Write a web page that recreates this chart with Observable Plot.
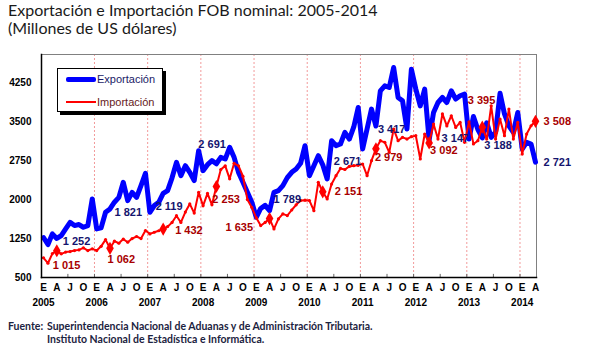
<!DOCTYPE html>
<html><head><meta charset="utf-8">
<script src="https://cdn.jsdelivr.net/npm/d3@7"></script>
<script src="https://cdn.jsdelivr.net/npm/@observablehq/plot@0.6"></script>
<style>
body{margin:0;background:#fff;}
#wrap{position:relative;width:600px;height:356px;overflow:hidden;background:#fff;}
#title{position:absolute;left:8px;top:1px;font-family:Lato,sans-serif;font-size:16px;line-height:18px;color:#1a1a1a;}
#chart{position:absolute;left:0;top:44px;}
#legend{position:absolute;left:57px;top:68px;width:106px;height:44px;box-sizing:border-box;border:1px solid #000;background:#fff;box-shadow:3px 3px 0 #000;font-family:"Liberation Sans",Arial,sans-serif;font-size:11px;}
.sw{position:absolute;left:8px;width:30px;}
.lt{position:absolute;left:39px;line-height:12px;}
#caption{position:absolute;left:8px;top:320px;font-family:Lato,sans-serif;font-weight:bold;font-size:10.5px;line-height:13px;color:#1c2340;}
#caption span.k{display:inline-block;width:39px;}
</style></head>
<body>
<div id="wrap">
  <div id="title">Exportación e Importación FOB nominal: 2005-2014<br>(Millones de US dólares)</div>
  <div id="chart"></div>
  <div id="legend">
    <div class="sw" style="top:8px;height:5px;background:#0000ff;border-radius:2px;"></div>
    <div class="lt" style="top:4px;color:#1a1a66;">Exportación</div>
    <div class="sw" style="top:32px;height:2px;background:#ff0000;"></div>
    <div class="lt" style="top:27px;color:#661a1a;">Importación</div>
  </div>
  <div id="caption"><span class="k">Fuente:</span>Superintendencia Nacional de Aduanas y de Administración Tributaria.<br><span class="k"></span>Instituto Nacional de Estadística e Informática.</div>
</div>
<script>
// Monthly values, Jan 2005 .. Apr 2014 (millions of US$)
const exportacion = [
  1270, 1135, 1340, 1252, 1308, 1436, 1563, 1500, 1520, 1468, 1500, 2013, // 2005
  1436, 1455, 1756, 1821, 1950, 2044, 2333, 1981, 2140, 2044, 2270, 2506, // 2006
  1756, 1885, 1948, 2119, 2173, 2420, 2717, 2462, 2654, 2525, 2365, 2942, // 2007
  2558, 2673, 2750, 2691, 2814, 2782, 3006, 2814, 2525, 2333, 2140, 1948, // 2008
  1660, 1830, 1890, 1789, 2140, 2173, 2269, 2423, 2525, 2590, 2700, 3039, // 2009
  2461, 2654, 2846, 2671, 2398, 3135, 3039, 3071, 3294, 3167, 3400, 3775, // 2010
  2975, 3359, 3744, 3417, 4096, 4192, 4159, 4544, 3967, 3903, 3359, 4512, // 2011
  4128, 3806, 4128, 3147, 3679, 3871, 3967, 3871, 4096, 3936, 4000, 4032, // 2012
  3167, 3600, 3350, 3188, 3480, 3200, 3300, 4050, 3650, 3420, 3295, 3679, // 2013
  2975, 3103, 3071, 2721                                                  // 2014
];
const importacion = [
   880,  775,  960, 1015,  955,  990, 1000, 1019, 1032, 1071, 1019, 1052, // 2005
  1019, 1100, 1230, 1062, 1200, 1160, 1240, 1180, 1250, 1290, 1250, 1404, // 2006
  1340, 1372, 1400, 1432, 1480, 1560, 1690, 1560, 1760, 1917, 1740, 2140, // 2007
  1880, 2120, 1900, 2253, 2580, 2650, 2400, 2700, 2650, 2450, 2000, 1850, // 2008
  1650, 1500, 1560, 1635, 1436, 1629, 1725, 1692, 1800, 1900, 1981, 1990, // 2009
  1981, 1788, 2333, 2151, 2013, 2300, 2461, 2600, 2580, 2640, 2654, 2660, // 2010
  2686, 2461, 2750, 2979, 3135, 3103, 2910, 3359, 3135, 3199, 3167, 3212, // 2011
  3231, 2782, 3263, 3092, 3455, 3167, 3650, 3420, 3615, 3391, 3487, 3103, // 2012
  3500, 3071, 3135, 3395, 3167, 3807, 3167, 3551, 3231, 3744, 3167, 3487, // 2013
  2878, 3263, 3423, 3508                                                  // 2014
];
const years = [2005, 2006, 2007, 2008, 2009, 2010, 2011, 2012, 2013, 2014];
const monthLetters = ["E", "A", "J", "O"];
const yTicks = [500, 1250, 2000, 2750, 3500, 4250];

// label placement (pixels), separate from the data
const expLabelOffset = [[6,3],[4.5,3.5],[-7.5,13],[-18,-19],[4,-11],[11,-3],[2,3],[12.5,-1.5],[2,8],[8,0]];
const impLabelOffset = [[-4,14.5],[-2.5,11],[12,1.5],[-4,13],[-44,9],[12,0],[-1,8.5],[1,7.5],[-14.5,-26.5],[8,0]];

const fmt = d3.formatLocale({decimal: ",", thousands: " ", grouping: [3], currency: ["", ""]}).format(",d");
const expRows = exportacion.map((v, i) => ({i, v}));
const impRows = importacion.map((v, i) => ({i, v}));
const aprExp = expRows.filter(d => d.i % 12 === 3);
const aprImp = impRows.filter(d => d.i % 12 === 3);
const n = exportacion.length;
const quarterIdx = d3.range(0, n, 3);
const yearIdx = d3.range(0, n, 12);
const gridIdx = d3.range(11.5, n - 1, 12);
const halfIdx = d3.range(5.5, n - 1, 6);

const lblFont = {fontFamily: '"Liberation Sans", Arial, sans-serif', fontWeight: "bold", fontSize: 11, textAnchor: "start"};

const marks = [
  Plot.ruleX(gridIdx, {x: d => d, stroke: "#f29a9a", strokeDasharray: "2,2", strokeWidth: 1}),
  Plot.frame({stroke: "#808080"}),
  Plot.ruleX(halfIdx, {x: d => d, y1: 500, y2: 560, stroke: "#666"}),
  Plot.axisY(yTicks, {tickSize: 0, tickPadding: 10, fontWeight: "bold", fontSize: 10, fill: "#000", tickFormat: d => String(d), label: null}),
  Plot.axisX(quarterIdx, {tickSize: 0, tickPadding: 6, fontWeight: "bold", fontSize: 10, fill: "#000", tickFormat: i => monthLetters[(i / 3) % 4], label: null}),
  Plot.axisX(yearIdx, {tickSize: 0, tickPadding: 21, fontWeight: "bold", fontSize: 10, fill: "#000", tickFormat: i => String(years[i / 12]), label: null}),
  Plot.line(expRows, {x: "i", y: "v", stroke: "#0000ff", strokeWidth: 5, strokeLinejoin: "round"}),
  Plot.line(impRows, {x: "i", y: "v", stroke: "#ff0000", strokeWidth: 2}),
  Plot.dot(impRows, {x: "i", y: "v", r: 1.6, fill: "#ff0000"}),
  Plot.dot(aprImp, {x: "i", y: "v", symbol: "diamond", r: 4, fill: "#ff0000"}),
  ...aprExp.map((d, k) => Plot.text([d], {x: "i", y: "v", text: d => fmt(d.v), dx: expLabelOffset[k][0], dy: expLabelOffset[k][1], fill: "#14146e", ...lblFont})),
  ...aprImp.map((d, k) => Plot.text([d], {x: "i", y: "v", text: d => fmt(d.v), dx: impLabelOffset[k][0], dy: impLabelOffset[k][1], fill: "#a80000", ...lblFont})),
  Plot.frame({anchor: "left", stroke: "#000", strokeWidth: 1.5}),
  Plot.frame({anchor: "bottom", stroke: "#000", strokeWidth: 1.5})
];

const chart = Plot.plot({
  width: 600, height: 272,
  marginLeft: 41, marginRight: 64, marginTop: 10, marginBottom: 39,
  x: {type: "linear", domain: [0, n - 1], range: [43, 535], label: null},
  y: {domain: [500, 4795], label: null},
  style: {fontFamily: '"Liberation Sans", Arial, sans-serif', background: "transparent", overflow: "visible"},
  marks
});
document.getElementById("chart").appendChild(chart);
</script>
</body></html>
